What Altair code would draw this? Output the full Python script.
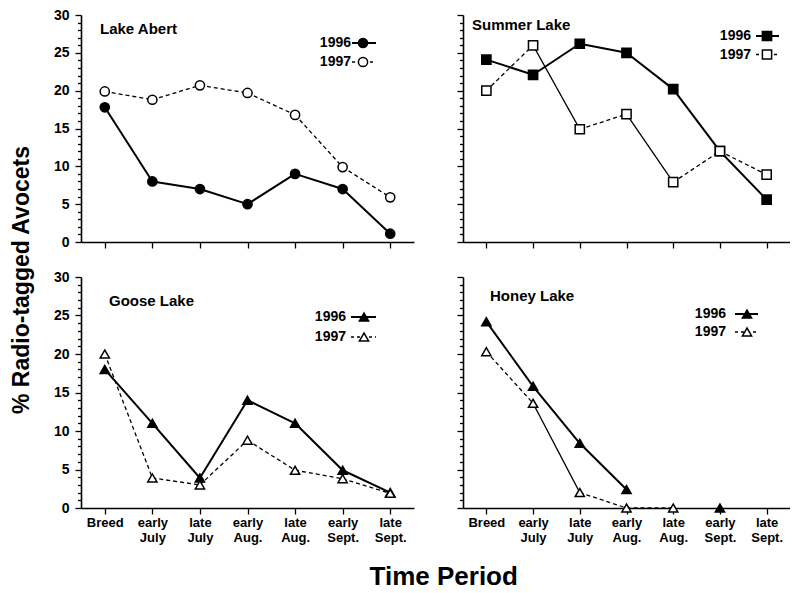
import altair as alt
import pandas as pd

periods = ["Breed", "early July", "late July", "early Aug.", "late Aug.", "early Sept.", "late Sept."]

abert_1996 = [17.8, 8.0, 7.0, 5.0, 9.0, 7.0, 1.1]
abert_1997 = [19.9, 18.8, 20.7, 19.7, 16.8, 9.9, 5.9]
summer_1996 = [24.1, 22.1, 26.2, 25.0, 20.2, 12.0, 5.6]
summer_1997 = [20.0, 26.0, 14.9, 16.9, 7.9, 12.0, 8.9]
goose_1996 = [18.0, 11.0, 3.9, 14.0, 11.0, 4.9, 2.0]
goose_1997 = [20.0, 3.9, 3.0, 8.8, 4.9, 3.8, 1.9]
honey_1996 = [24.2, 15.8, 8.4, 2.4, None, 0.0, None]
honey_1997 = [20.3, 13.6, 2.0, 0.0, 0.0, None, None]

# line style of each 1997 segment (d = dashed, s = solid)
abert_1997_style = ["d", "d", "d", "d", "d", "d"]
summer_1997_style = ["d", "s", "d", "s", "d", "d"]
goose_1997_style = ["d", "d", "d", "d", "d", "d"]
honey_1997_style = ["d", "s", "d", "d", "d", "d"]

FONT = "Liberation Sans"
W_LEFT = 333
W_RIGHT = 327
H_TOP = 227
H_BOTTOM = 231


def segments(values, styles, year):
    rows = []
    for i in range(len(values) - 1):
        a, b = values[i], values[i + 1]
        if a is None or b is None:
            continue
        st = "solid" if (styles is None or styles[i] == "s") else "dashed"
        for j in (i, i + 1):
            rows.append({"seg": f"{year}-{i}", "period": periods[j],
                         "value": values[j], "style": st, "year": year})
    return pd.DataFrame(rows)


def points(values, year):
    rows = [{"period": p, "value": v, "year": year}
            for p, v in zip(periods, values) if v is not None]
    return pd.DataFrame(rows)


def panel(title, v96, v97, st97, shape, width, height, show_x, show_y, tpos, leg):
    xenc = alt.X("period:N", sort=periods,
                 scale=alt.Scale(type="point", domain=periods, padding=0.5),
                 axis=alt.Axis(title=None, labelAngle=0, labels=show_x,
                               labelExpr="split(datum.label, ' ')",
                               labelLineHeight=15, labelFontSize=13,
                               labelFont=FONT, labelFontWeight="bold",
                               labelColor="black",
                               labelPadding=2, labelBaseline="top",
                               labelOverlap=False,
                               tickSize=6, tickColor="black", tickWidth=1.3,
                               domainColor="black", domainWidth=1.6,
                               grid=False))
    yenc = alt.Y("value:Q",
                 scale=alt.Scale(domain=[0, 30], nice=False, zero=True),
                 axis=alt.Axis(title=None, values=list(range(31)),
                               labels=show_y, labelOverlap=False,
                               labelExpr="datum.value % 5 === 0 ? datum.label : ''",
                               labelFontSize=14, labelFont=FONT,
                               labelFontWeight="bold", labelColor="black",
                               labelPadding=6,
                               tickSize={"condition": {"test": "datum.value % 5 === 0", "value": 6}, "value": 3.5},
                               tickColor="black", tickWidth=1.3,
                               domainColor="black", domainWidth=1.6,
                               grid=False))

    dash_scale = alt.Scale(domain=["solid", "dashed"], range=[[1, 0], [4, 3]])

    seg96 = segments(v96, None, "1996")
    seg97 = segments(v97, st97, "1997")
    pts = pd.concat([points(v96, "1996"), points(v97, "1997")])

    line97 = alt.Chart(seg97).mark_line(color="black", strokeWidth=1.3).encode(
        x=xenc, y=yenc, detail="seg:N",
        strokeDash=alt.StrokeDash("style:N", scale=dash_scale, legend=None))
    line96 = alt.Chart(seg96).mark_line(color="black", strokeWidth=2).encode(
        x=xenc, y=yenc, detail="seg:N")
    pt = alt.Chart(pts).mark_point(shape=shape, filled=True, size=85,
                                   stroke="black", strokeWidth=1.5,
                                   opacity=1).encode(
        x=xenc, y=yenc,
        fill=alt.Fill("year:N", scale=alt.Scale(domain=["1996", "1997"],
                                                range=["black", "white"]),
                      legend=None))

    ttl = alt.Chart(pd.DataFrame({"t": [title]})).mark_text(
        align="left", baseline="middle", font=FONT, fontSize=15,
        fontWeight="bold", color="black").encode(
        text="t:N", x=alt.value(tpos[0]), y=alt.value(tpos[1]))

    tx, y96, y97, lx1, lx2, mx = leg
    legtext96 = alt.Chart(pd.DataFrame({"t": ["1996"]})).mark_text(
        align="right", baseline="middle", font=FONT, fontSize=14,
        fontWeight="bold", color="black").encode(
        text="t:N", x=alt.value(tx), y=alt.value(y96))
    legtext97 = alt.Chart(pd.DataFrame({"t": ["1997"]})).mark_text(
        align="right", baseline="middle", font=FONT, fontSize=14,
        fontWeight="bold", color="black").encode(
        text="t:N", x=alt.value(tx), y=alt.value(y97))
    legline96 = alt.Chart(pd.DataFrame({"t": ["1996"]})).mark_rule(
        color="black", strokeWidth=2).encode(
        x=alt.value(lx1), x2=alt.value(lx2), y=alt.value(y96))
    legline97 = alt.Chart(pd.DataFrame({"t": ["1997"]})).mark_rule(
        color="black", strokeWidth=1.3, strokeDash=[3, 3]).encode(
        x=alt.value(lx1), x2=alt.value(lx2), y=alt.value(y97))
    legpt96 = alt.Chart(pd.DataFrame({"t": ["1996"]})).mark_point(
        shape=shape, filled=True, size=85, fill="black", stroke="black",
        strokeWidth=1.5, opacity=1).encode(x=alt.value(mx), y=alt.value(y96))
    legpt97 = alt.Chart(pd.DataFrame({"t": ["1997"]})).mark_point(
        shape=shape, filled=True, size=85, fill="white", stroke="black",
        strokeWidth=1.5, opacity=1).encode(x=alt.value(mx), y=alt.value(y97))

    return alt.layer(line97, line96, pt, ttl, legtext96, legtext97,
                     legline96, legline97, legpt96, legpt97).properties(
        width=width, height=height)


tl = panel("Lake Abert", abert_1996, abert_1997, abert_1997_style, "circle",
           W_LEFT, H_TOP, False, True, (19, 14), (270, 28, 47, 271, 295, 282))
tr = panel("Summer Lake", summer_1996, summer_1997, summer_1997_style, "square",
           W_RIGHT, H_TOP, False, False, (9, 10), (288, 21, 39.5, 293, 316, 304))
bl = panel("Goose Lake", goose_1996, goose_1997, goose_1997_style, "triangle-up",
           W_LEFT, H_BOTTOM, True, True, (28, 24), (265, 40, 60, 270, 295, 283))
br = panel("Honey Lake", honey_1996, honey_1997, honey_1997_style, "triangle-up",
           W_RIGHT, H_BOTTOM, True, False, (27, 19), (263, 37, 55, 272, 295, 284))

row1 = alt.hconcat(tl, tr, spacing=42)
row2 = alt.hconcat(bl, br, spacing=42)
grid = alt.vconcat(row1, row2, spacing=21).properties(
    title=alt.TitleParams("Time Period", orient="bottom", anchor="middle",
                          fontSize=26, font=FONT, fontWeight="bold",
                          color="black", offset=20, dx=22))

chart = alt.hconcat(grid).properties(
    title=alt.TitleParams("% Radio-tagged Avocets", orient="left",
                          anchor="middle", fontSize=23, font=FONT,
                          fontWeight="bold", color="black", offset=19, dx=19),
    padding={"top": 0, "left": 3, "right": 0, "bottom": 0},
).configure_view(stroke=None).configure_concat(spacing=0)

chart.save("out.html", embed_options={"renderer": "svg", "actions": False})
